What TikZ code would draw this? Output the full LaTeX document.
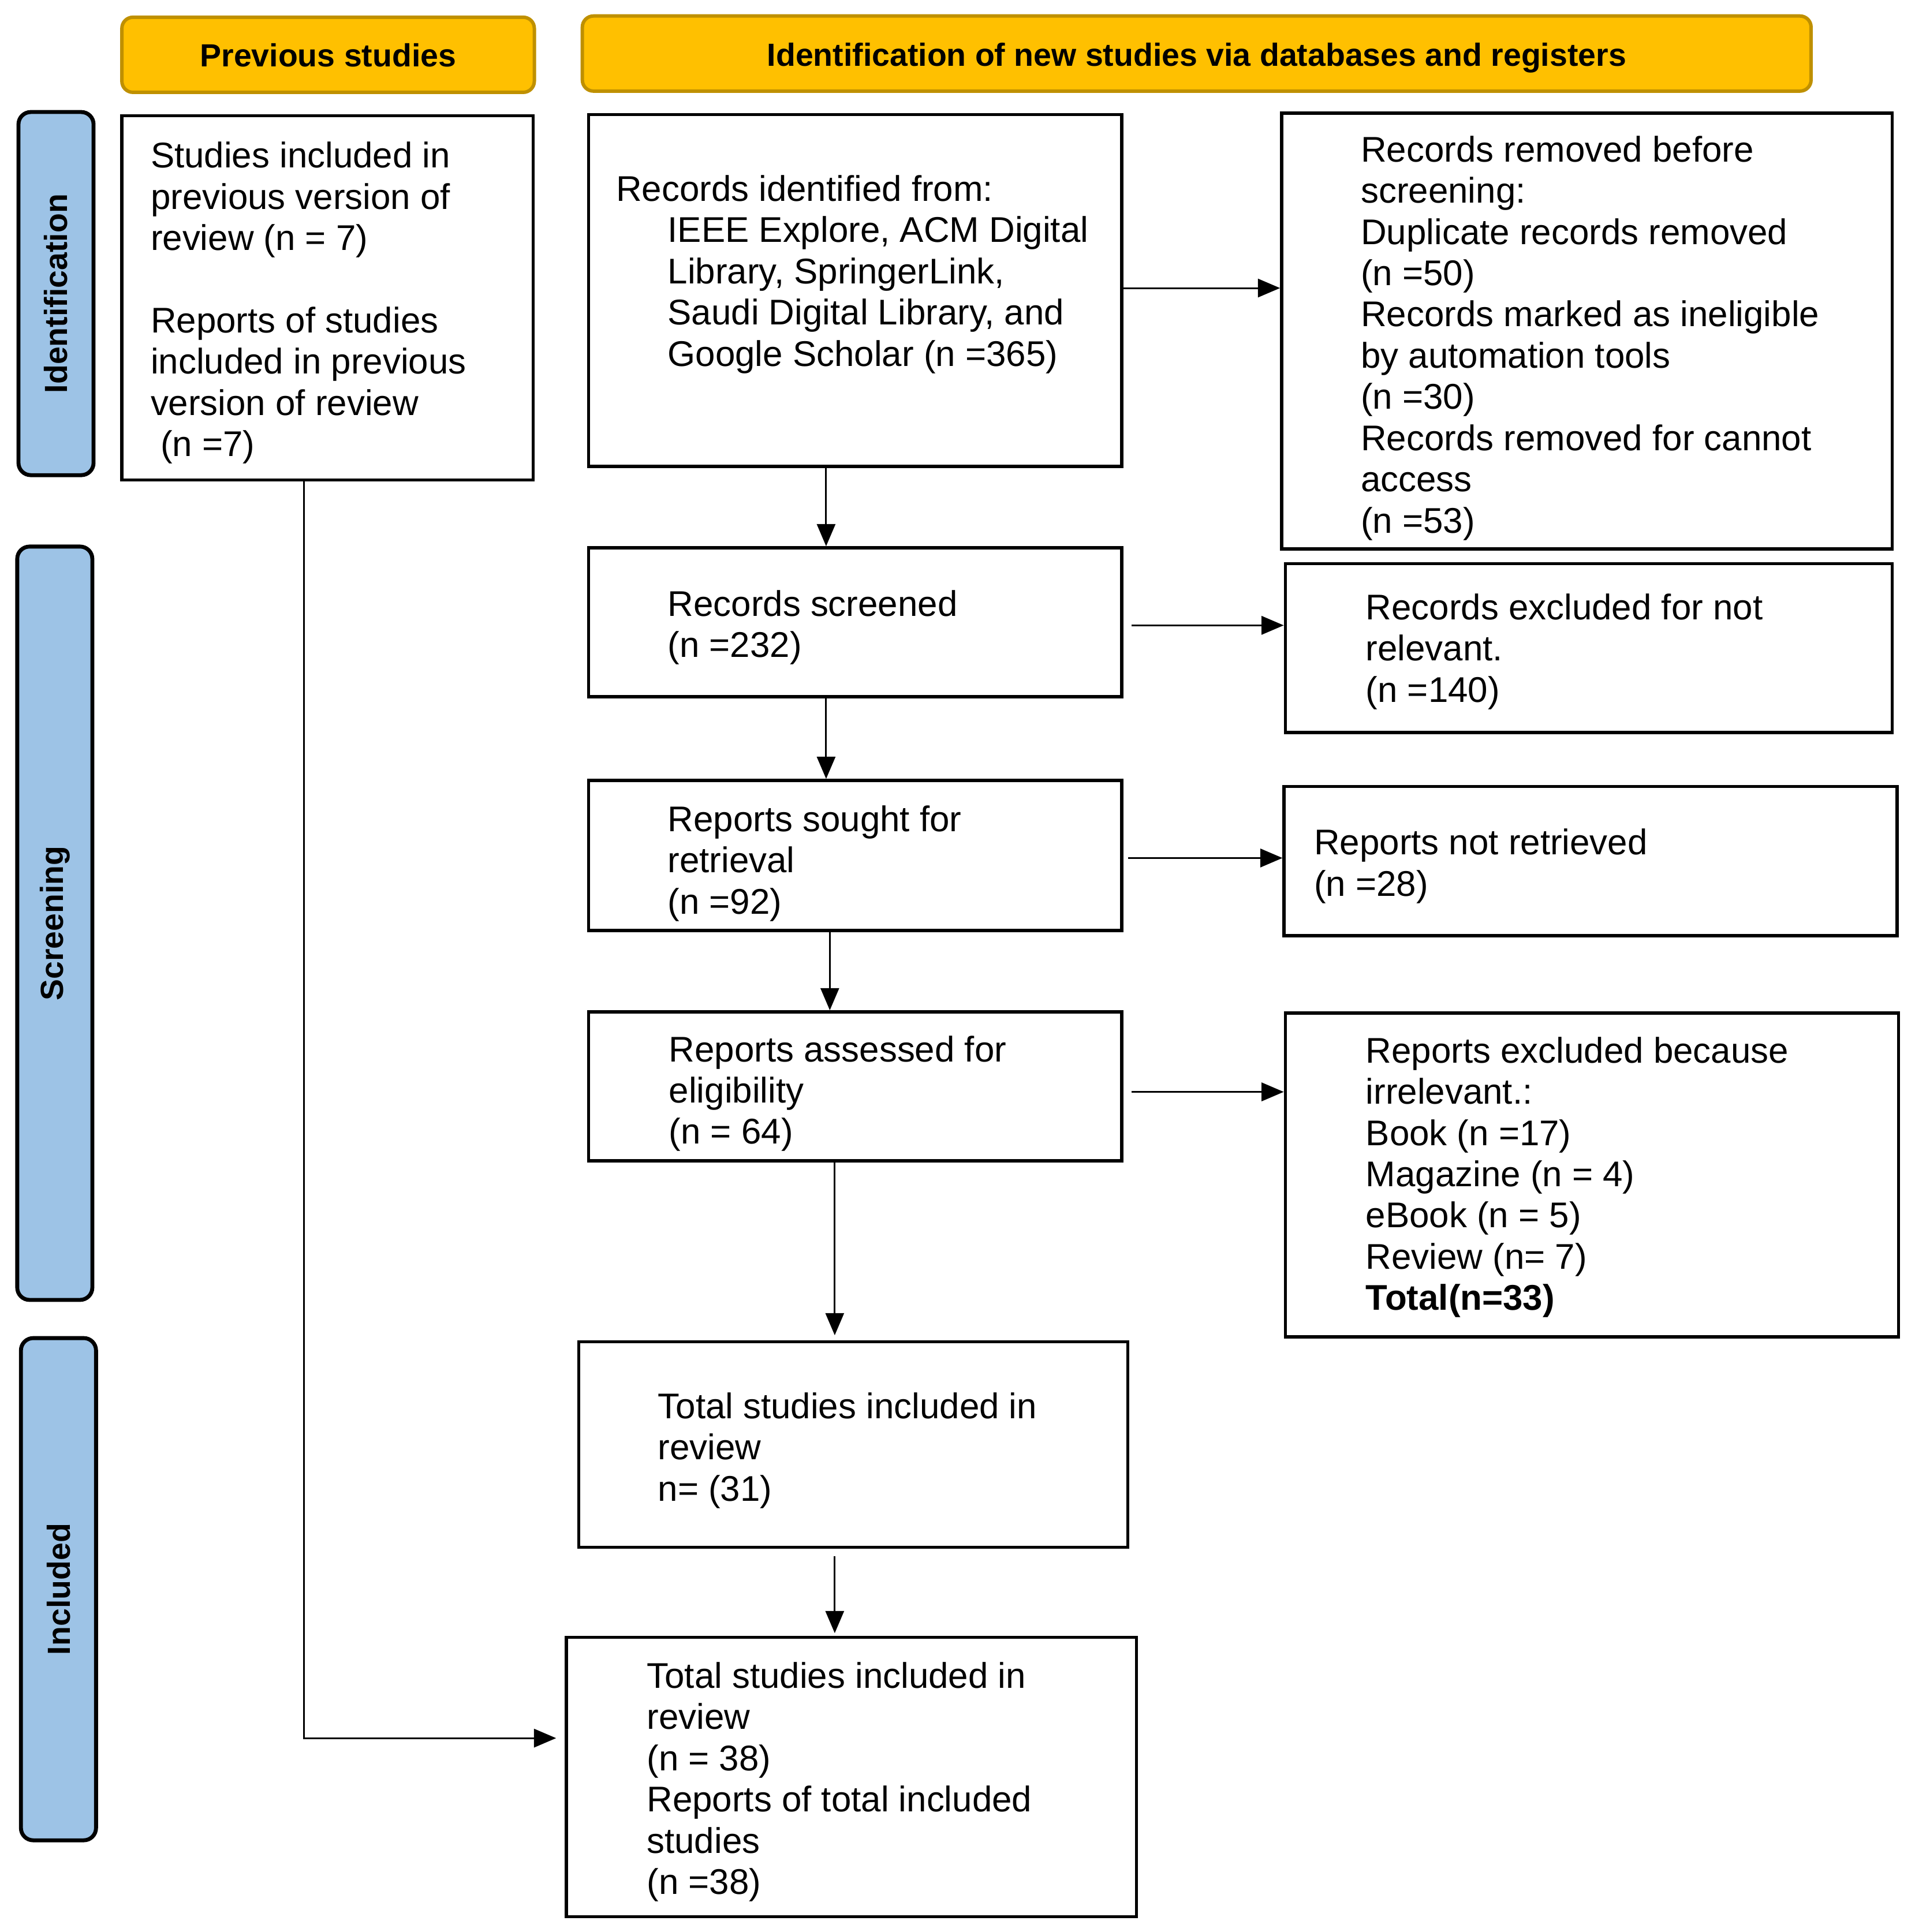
\documentclass[tikz,border=0pt]{standalone}
\usepackage{fontspec}
\setmainfont{Liberation Sans}
\usetikzlibrary{fit,arrows.meta}
\definecolor{hdrfill}{HTML}{FFC000}
\definecolor{hdrborder}{HTML}{BF9000}
\definecolor{sidefill}{HTML}{9DC3E6}
\begin{document}
\begin{tikzpicture}[x=0.5pt,y=-0.5pt,
  mainbox/.style={draw=black, line width=1.3pt, inner sep=0pt},
  hdr/.style={draw=hdrborder, fill=hdrfill, line width=1.4pt, rounded corners=4.5pt, inner sep=0pt},
  hdrtxt/.style={anchor=base, font=\fontsize{13pt}{15pt}\selectfont\bfseries, inner sep=0pt},
  phasebox/.style={draw=black, fill=sidefill, line width=1.6pt, rounded corners=5pt, inner sep=0pt},
  phasetxt/.style={rotate=90, font=\fontsize{13pt}{15pt}\selectfont\bfseries, inner sep=0pt},
  txt/.style={anchor=north west, align=left, inner sep=0pt, font=\fontsize{14.5pt}{16.75pt}\selectfont},
  arr/.style={line width=0.7pt, -{Triangle[length=9pt,width=7.5pt]}},
]
\useasboundingbox (0,0) rectangle (1555,1569.5);

% headers
\node[hdr, fit={(99,14) (434,75)}] (hprev) {};
\node[hdrtxt] (thprev) at (hprev.center |- 0,54) {Previous studies};
\node[hdr, fit={(473,13) (1471,74)}] (hident) {};
\node[hdrtxt] (thident) at (hident.center |- 0,53.5) {Identification of new studies via databases and registers};

% phase labels
\node[phasebox, fit={(15,91) (76,386)}] (sident) {};
\node[phasetxt] (lident) at (sident.center) {Identification};
\node[phasebox, fit={(14,444) (75,1056)}] (sscreen) {};
\node[phasetxt] (lscreen) at (sscreen.center) {Screening};
\node[phasebox, fit={(17,1087) (78,1495)}] (sincl) {};
\node[phasetxt] (lincl) at (sincl.center) {Included};

% boxes
\node[mainbox, fit={(99,94) (433,390)}] (prev) {};
\node[mainbox, fit={(478,93) (911,379)}] (ident) {};
\node[mainbox, fit={(1041,92) (1537,446)}] (removed) {};
\node[mainbox, fit={(478,445) (911,566)}] (screened) {};
\node[mainbox, fit={(1044,458) (1537,595)}] (excluded) {};
\node[mainbox, fit={(478,634) (911,756)}] (sought) {};
\node[mainbox, fit={(1043,639) (1541,760)}] (notretr) {};
\node[mainbox, fit={(478,822) (911,943)}] (assessed) {};
\node[mainbox, fit={(1044,823) (1542,1086)}] (excltwo) {};
\node[mainbox, fit={(470,1090) (916,1257)}] (totalone) {};
\node[mainbox, fit={(460,1330) (923,1557)}] (totaltwo) {};

% texts
\node[txt] (tprev) at (122,112.5) {\strut Studies included in\\previous version of\\review (n = 7)\\[16.75pt]Reports of studies\\included in previous\\version of review\\\hspace*{4pt}(n =7)};
\node[txt] (tident) at (500,139.5) {\strut Records identified from:\\\hspace*{21pt}IEEE Explore, ACM Digital\\\hspace*{21pt}Library, SpringerLink,\\\hspace*{21pt}Saudi Digital Library, and\\\hspace*{21pt}Google Scholar (n =365)};
\node[txt] (tremoved) at (1105,107.5) {\strut Records removed before\\screening:\\Duplicate records removed\\(n =50)\\Records marked as ineligible\\by automation tools\\(n =30)\\Records removed for cannot\\access\\(n =53)};
\node[txt] (tscreened) at (542,476.5) {\strut Records screened\\(n =232)};
\node[txt] (texcluded) at (1109,479.5) {\strut Records excluded for not\\relevant.\\(n =140)};
\node[txt] (tsought) at (542,651.5) {\strut Reports sought for\\retrieval\\(n =92)};
\node[txt] (tnotretr) at (1067,670.5) {\strut Reports not retrieved\\(n =28)};
\node[txt] (tassessed) at (543,838.5) {\strut Reports assessed for\\eligibility\\(n = 64)};
\node[txt] (texcltwo) at (1109,839.5) {\strut Reports excluded because\\irrelevant.:\\Book (n =17)\\Magazine (n = 4)\\eBook (n = 5)\\Review (n= 7)\\\textbf{Total(n=33)}};
\node[txt] (ttotalone) at (534,1128.5) {\strut Total studies included in\\review\\n= (31)};
\node[txt] (ttotaltwo) at (525,1347.5) {\strut Total studies included in\\review\\(n = 38)\\Reports of total included\\studies\\(n =38)};

% connectors
\draw[arr] ([shift={(0,-2)}]ident.east) -- ([shift={(0,-2)}]ident.east -| removed.west);
\draw[arr, shorten <=3.5pt] ([shift={(0,2.5)}]screened.east) -- ([shift={(0,2.5)}]screened.east -| excluded.west);
\draw[arr, shorten <=2pt] ([shift={(0,2)}]sought.east) -- ([shift={(0,2)}]sought.east -| notretr.west);
\draw[arr, shorten <=3.5pt] ([shift={(0,4.5)}]assessed.east) -- ([shift={(0,4.5)}]assessed.east -| excltwo.west);

\draw[arr] ([shift={(-23.5,0)}]ident.south) -- ([shift={(-23.5,0)}]ident.south |- screened.north);
\draw[arr] ([shift={(-23.5,0)}]screened.south) -- ([shift={(-23.5,0)}]screened.south |- sought.north);
\draw[arr] ([shift={(-20.5,0)}]sought.south) -- ([shift={(-20.5,0)}]sought.south |- assessed.north);
\draw[arr, shorten >=2pt] ([shift={(-16.5,0)}]assessed.south) -- ([shift={(-16.5,0)}]assessed.south |- totalone.north);
\draw[arr, shorten <=3pt, shorten >=1pt] ([shift={(-15,0)}]totalone.south) -- ([shift={(-15,0)}]totalone.south |- totaltwo.north);
\draw[arr, shorten >=3.5pt] ([shift={(-19,0)}]prev.south) |- ([shift={(0,-31.5)}]totaltwo.west);
\end{tikzpicture}
\end{document}
